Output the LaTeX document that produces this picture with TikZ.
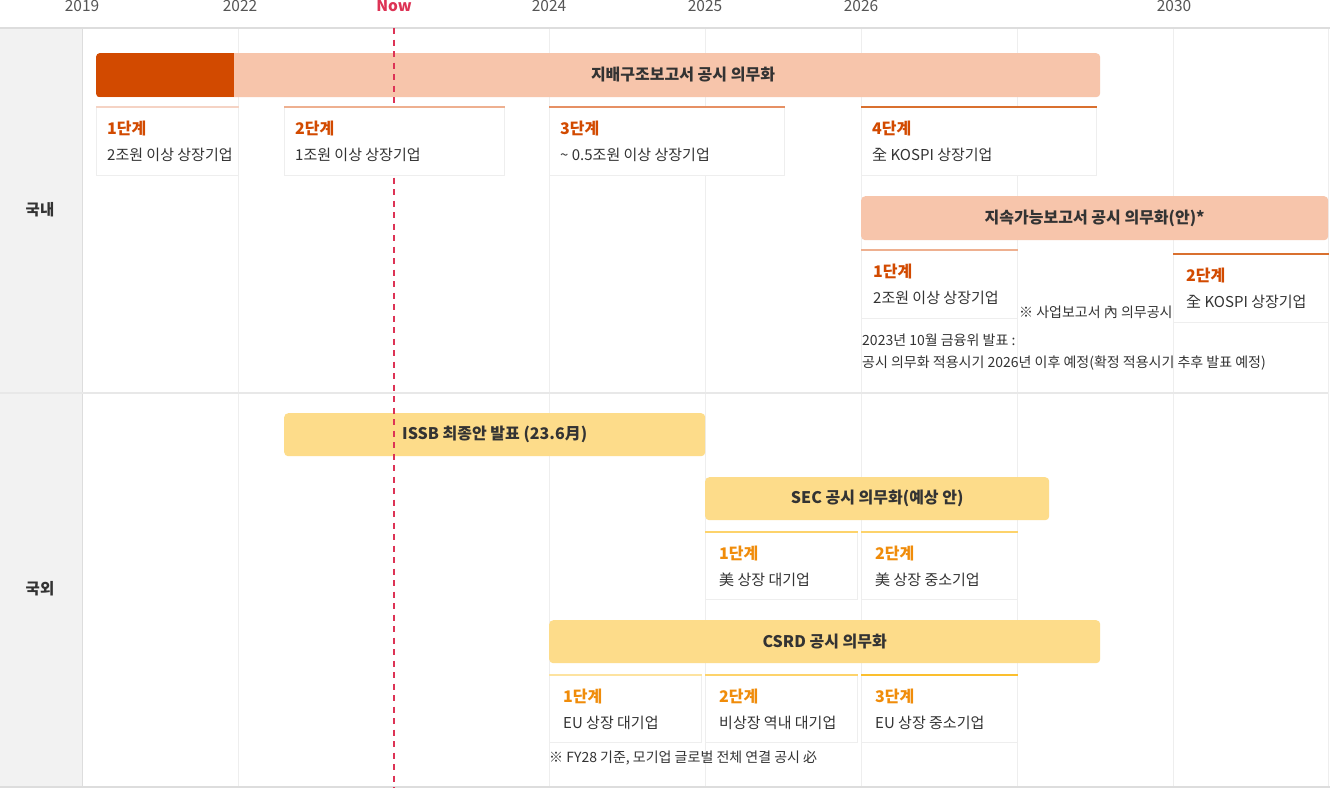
\documentclass[tikz,border=0pt]{standalone}
\usepackage{fontspec}
\setmainfont{Noto Sans CJK KR}
\usepackage{xcolor}
\usetikzlibrary{positioning}

\definecolor{sidegray}{HTML}{F2F2F2}
\definecolor{linegray}{HTML}{DDDDDD}
\definecolor{sepgray}{HTML}{E8E8E8}
\definecolor{gridgray}{HTML}{EEEEEE}
\definecolor{peach}{HTML}{F7C5AB}
\definecolor{govdark}{HTML}{D24A00}
\definecolor{sunny}{HTML}{FDDC8A}
\definecolor{domtxt}{HTML}{D24A00}
\definecolor{abrtxt}{HTML}{F08C0A}
\definecolor{nowred}{HTML}{DD3355}
\definecolor{inktxt}{HTML}{333333}
\definecolor{yeartxt}{HTML}{555555}
% top lines of the stage cards
\definecolor{domA}{HTML}{F5D3C4}
\definecolor{domB}{HTML}{EEB090}
\definecolor{domC}{HTML}{E69064}
\definecolor{domD}{HTML}{D9702F}
\definecolor{abrA}{HTML}{FDE3A0}
\definecolor{abrB}{HTML}{FDD36B}
\definecolor{abrC}{HTML}{FBBF2E}

\newcommand{\lvl}[2]{{\fontsize{16}{26}\selectfont\bfseries\color{#1}#2}}

\begin{document}
\begin{tikzpicture}[x=1pt, y=-1pt,
    card/.style={draw=gridgray, line width=1pt, fill=white, anchor=north west, minimum height=68pt, inner sep=0pt},
    bar/.style={anchor=north west, rounded corners=4pt, minimum height=44pt, inner sep=0pt, font=\fontsize{16}{18}\selectfont\bfseries, text=inktxt},
    stagetext/.style={anchor=west, align=left, inner sep=0pt, font=\fontsize{15}{26}\selectfont, text=inktxt},
    year/.style={font=\fontsize{15.5}{17}\selectfont, text=yeartxt},
    side/.style={font=\fontsize{15.5}{17}\selectfont\bfseries, text=inktxt},
    note/.style={anchor=west, align=left, inner sep=0pt, font=\fontsize{14}{22}\selectfont, text=inktxt},
    topline/.style={line width=2pt}]
    \useasboundingbox (0,0) rectangle (1330,788);
    \fill[white] (0,0) rectangle (1330,788);

    % frame and grid
    \fill[sidegray] (0,28) rectangle (82,788);
    \draw[gridgray, line width=1pt]
        (238,28) -- (238,788) (549,28) -- (549,788) (705,28) -- (705,788)
        (861,28) -- (861,788) (1017,28) -- (1017,788) (1173,28) -- (1173,788)
        (1328,28) -- (1328,788);
    \draw[linegray, line width=1pt] (82,28) -- (82,788);
    \draw[linegray, line width=1.5pt] (0,28) -- (1330,28);
    \draw[sepgray, line width=2pt] (0,393) -- (1328,393);
    \draw[linegray, line width=1.5pt] (0,787) -- (1330,787);

    \node[year] (y2019) at (82,6) {2019};
    \node[year] (y2022) at (240,6) {2022};
    \node[year, text=nowred, font=\fontsize{15.5}{17}\selectfont\bfseries] (ynow) at (394,6) {Now};
    \node[year] (y2024) at (549,6) {2024};
    \node[year] (y2025) at (705,6) {2025};
    \node[year] (y2026) at (861,6) {2026};
    \node[year] (y2030) at (1174,6) {2030};

    \node[side] (dom) at (40,210) {국내};
    \node[side] (abr) at (40,589) {국외};

    % bars
    \node[bar, fill=peach, minimum width=1004pt] (gov) at (96,53) {};
    \begin{scope}
        \clip[rounded corners=4pt] (gov.north west) rectangle (gov.south east);
        \fill[govdark] (gov.north west) rectangle (234,97);
    \end{scope}
    \node[bar, anchor=center] (govtitle) at (683,75) {지배구조보고서 공시 의무화};
    \node[bar, fill=peach, minimum width=467pt] (sus) at (861,196) {지속가능보고서 공시 의무화(안)*};
    \node[bar, fill=sunny, minimum width=421pt, minimum height=43pt] (issb) at (284,413) {ISSB 최종안 발표 (23.6月)};
    \node[bar, fill=sunny, minimum width=344pt, minimum height=43pt] (sec) at (705,477) {SEC 공시 의무화(예상 안)};
    \node[bar, fill=sunny, minimum width=551pt, minimum height=43pt] (csrd) at (549,620) {CSRD 공시 의무화};

    \draw[nowred, line width=2pt, dash pattern=on 6pt off 5.5pt] (ynow |- 0,28) -- (394,788);

    % domestic stages
    \node[card, minimum width=142pt] (gov1) at (96,107) {};
    \node[card, minimum width=220pt] (gov2) at (284,107) {};
    \node[card, minimum width=235pt] (gov3) at (549,107) {};
    \node[card, minimum width=235pt] (gov4) at (861,107) {};
    \node[card, minimum width=156pt] (sus1) at (861,250) {};
    \node[card, minimum width=155pt] (sus2) at (1173,254) {};
    \draw[topline, domA] (gov1.north west) -- (gov1.north east);
    \draw[topline, domB] (gov2.north west) -- (gov2.north east);
    \draw[topline, domC] (gov3.north west) -- (gov3.north east);
    \draw[topline, domD] (gov4.north west) -- (gov4.north east);
    \draw[topline, domB] (sus1.north west) -- (sus1.north east);
    \draw[topline, domD] (sus2.north west) -- (sus2.north east);
    \node[stagetext] at ([xshift=11pt]gov1.west) {\lvl{domtxt}{1단계}\\2조원 이상 상장기업};
    \node[stagetext] at ([xshift=11pt]gov2.west) {\lvl{domtxt}{2단계}\\1조원 이상 상장기업};
    \node[stagetext] at ([xshift=11pt]gov3.west) {\lvl{domtxt}{3단계}\\\textasciitilde{} 0.5조원 이상 상장기업};
    \node[stagetext] at ([xshift=11pt]gov4.west) {\lvl{domtxt}{4단계}\\全 KOSPI 상장기업};
    \node[stagetext] at ([xshift=12pt]sus1.west) {\lvl{domtxt}{1단계}\\2조원 이상 상장기업};
    \node[stagetext] at ([xshift=13pt]sus2.west) {\lvl{domtxt}{2단계}\\全 KOSPI 상장기업};

    \node[note] (susnote) at (1019,312) {※ 사업보고서 內 의무공시};
    \node[note] (fsc) at (862,352) {2023년 10월 금융위 발표 :\\공시 의무화 적용시기 2026년 이후 예정(확정 적용시기 추후 발표 예정)};

    % overseas stages
    \node[card, minimum width=152pt, minimum height=67pt] (sec1) at (705,532) {};
    \node[card, minimum width=156pt, minimum height=67pt] (sec2) at (861,532) {};
    \node[card, minimum width=152pt, minimum height=67pt] (csrd1) at (549,675) {};
    \node[card, minimum width=152pt, minimum height=67pt] (csrd2) at (705,675) {};
    \node[card, minimum width=156pt, minimum height=67pt] (csrd3) at (861,675) {};
    \draw[topline, abrB] (sec1.north west) -- (sec1.north east);
    \draw[topline, abrB] (sec2.north west) -- (sec2.north east);
    \draw[topline, abrA] (csrd1.north west) -- (csrd1.north east);
    \draw[topline, abrB] (csrd2.north west) -- (csrd2.north east);
    \draw[topline, abrC] (csrd3.north west) -- (csrd3.north east);
    \node[stagetext] at ([xshift=14pt]sec1.west) {\lvl{abrtxt}{1단계}\\美 상장 대기업};
    \node[stagetext] at ([xshift=14pt]sec2.west) {\lvl{abrtxt}{2단계}\\美 상장 중소기업};
    \node[stagetext] at ([xshift=14pt]csrd1.west) {\lvl{abrtxt}{1단계}\\EU 상장 대기업};
    \node[stagetext] at ([xshift=14pt]csrd2.west) {\lvl{abrtxt}{2단계}\\비상장 역내 대기업};
    \node[stagetext] at ([xshift=14pt]csrd3.west) {\lvl{abrtxt}{3단계}\\EU 상장 중소기업};

    \node[note] (csrdnote) at (549,758) {※ FY28 기준, 모기업 글로벌 전체 연결 공시 必};
\end{tikzpicture}
\end{document}
